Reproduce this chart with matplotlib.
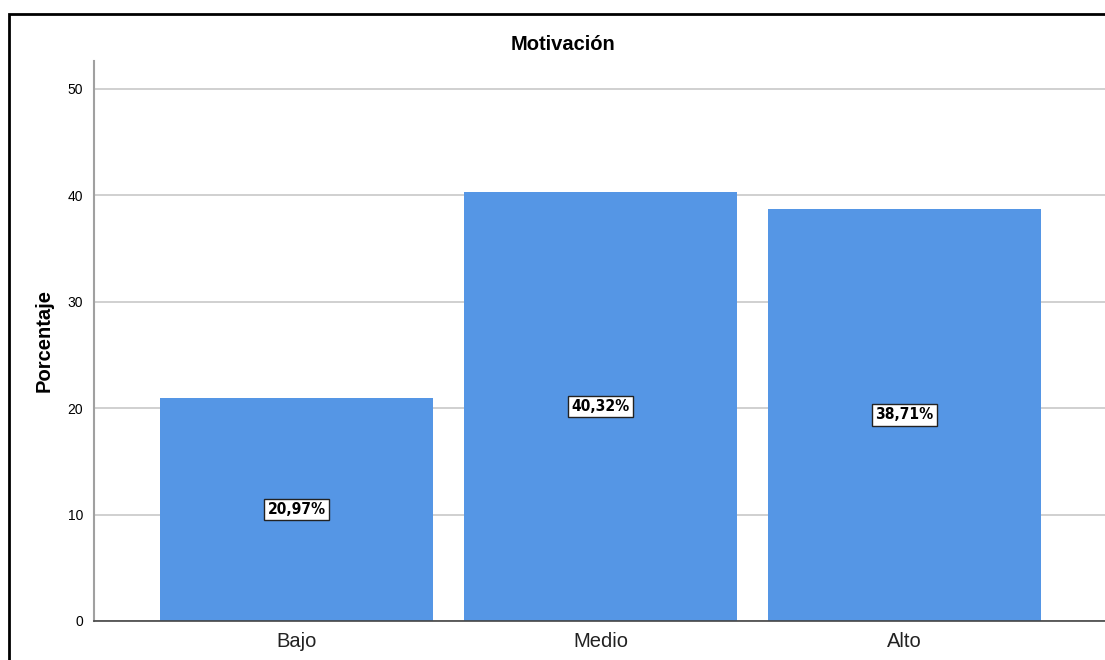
import matplotlib
matplotlib.use("Agg")
import matplotlib.pyplot as plt
from matplotlib.patches import Rectangle
from matplotlib import font_manager
import numpy as np

categorias = ["Bajo", "Medio", "Alto"]
porcentajes = [20.97, 40.32, 38.71]
ticks_y = [0, 10, 20, 30, 40, 50]

plt.rcParams["font.family"] = ["Liberation Sans", "DejaVu Sans"]

# fuente estrecha para las etiquetas de valor, si existe
nombres = {f.name for f in font_manager.fontManager.ttflist}
if "Liberation Sans Narrow" in nombres:
    fuente_etiqueta = dict(family="Liberation Sans Narrow")
elif "DejaVu Sans Condensed" in nombres:
    fuente_etiqueta = dict(family="DejaVu Sans Condensed")
else:
    fuente_etiqueta = dict(family="DejaVu Sans", fontstretch="condensed")

fig = plt.figure(figsize=(11.05, 6.6), dpi=100)
ax = fig.add_axes([94 / 1105, 1 - 621 / 660, 1013 / 1105, 560 / 660])

x = np.arange(len(categorias))
ax.set_axisbelow(True)
ax.yaxis.grid(True, color="#c8c8c8", linewidth=1.2)
ax.bar(x, porcentajes, width=0.898, color="#5596e5", zorder=2)

for xi, v in zip(x, porcentajes):
    etiqueta = f"{v:.2f}".replace(".", ",") + "%"
    ax.text(xi, v / 2, etiqueta, ha="center", va="center", fontsize=11.2,
            fontweight="bold", zorder=3, **fuente_etiqueta,
            bbox=dict(boxstyle="square,pad=0.2", fc="white", ec="#222222", lw=1))

ax.set_xlim(-0.666, 2.666)
ax.set_ylim(0, 52.6)
ax.set_xticks(x)
ax.set_xticklabels(categorias, fontsize=14.5)
ax.set_yticks(ticks_y)
ax.tick_params(axis="y", length=0, labelsize=10, pad=8)
ax.tick_params(axis="x", length=0, pad=8, colors="#222222")

for lado in ["top", "right"]:
    ax.spines[lado].set_visible(False)
ax.spines["left"].set_color("#a0a0a0")
ax.spines["left"].set_linewidth(1.5)
ax.spines["bottom"].set_color("#444444")
ax.spines["bottom"].set_linewidth(1.2)

ax.set_ylabel("Porcentaje", fontsize=14.5, fontweight="bold", labelpad=10)
fig.text(563 / 1105, 1 - 45 / 660, "Motivación", ha="center", va="center",
         fontsize=14.5, fontweight="bold")

# marco exterior del gráfico
fig.patches.append(Rectangle((9 / 1105, -0.1), 1.2, 0.1 + 1 - 14 / 660,
                             transform=fig.transFigure, fill=False,
                             ec="black", lw=2, clip_on=False))

fig.savefig("out.png", dpi=100)
